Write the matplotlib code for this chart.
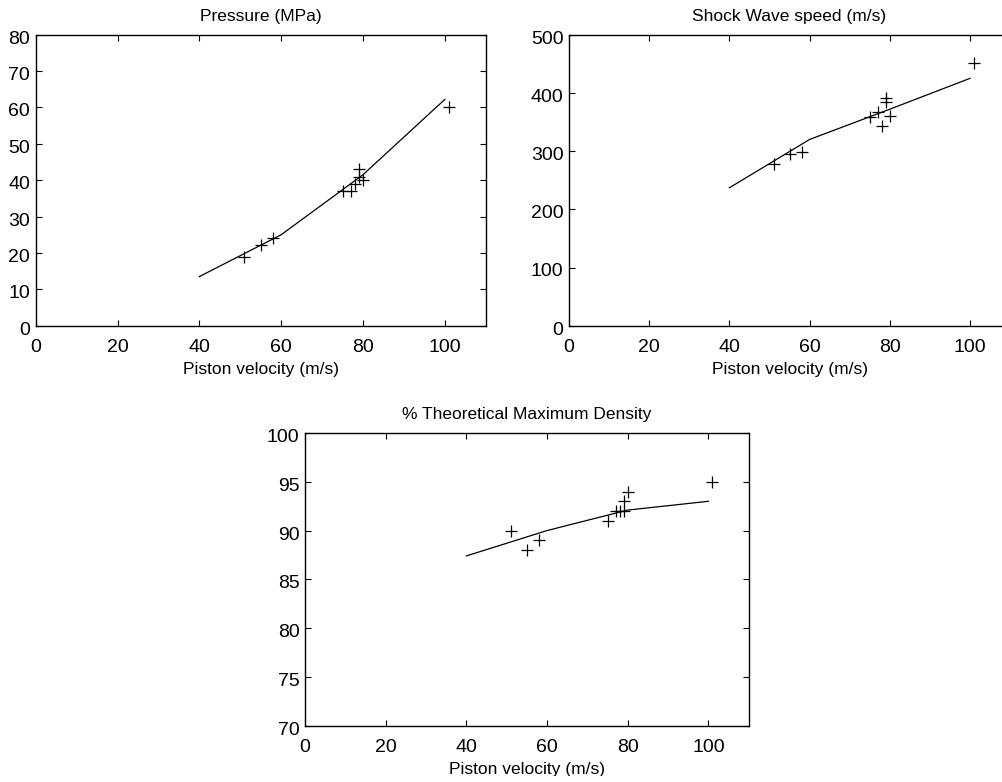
import numpy as np
import matplotlib
matplotlib.use("Agg")
import matplotlib.pyplot as plt
from matplotlib.transforms import Bbox, TransformedBbox, ScaledTranslation

plt.rcParams['font.family'] = ['Liberation Sans', 'DejaVu Sans']
plt.rcParams['font.size'] = 12

# measured piston velocities (m/s)
velocity = [51, 55, 58, 75, 77, 78, 79, 79, 80, 101]
pressure = [19, 22.3, 24, 37, 37, 39, 43, 41, 40, 60]
shock_speed = [278, 295, 299, 359, 368, 343, 392, 385, 360, 451]
density = [90, 88, 89, 91, 92, 92, 93, 92, 94, 95]

# model curves
model_velocity = [40, 60, 80, 100]
model_pressure = [13.5, 25.0, 41.5, 62.2]
model_shock = [237, 320, 372, 425]
model_density = [87.4, 90.0, 92.1, 93.0]

W, H = 1002, 782
fig = plt.figure(figsize=(W / 100, H / 100), dpi=100)


def make_axes(left, bottom, right, top):
    return fig.add_axes([left / W, 1 - bottom / H, (right - left) / W, (bottom - top) / H])


def style(ax, title, ylim, yticks, clip_y):
    ax.set_xlim(0, 110)
    ax.set_ylim(*ylim)
    ax.set_xticks([0, 20, 40, 60, 80, 100])
    ax.set_yticks(yticks)
    ax.tick_params(direction='in', length=4, width=0.8, top=True, right=True,
                   labelsize=14)
    ax.tick_params(axis='x', pad=9.5)
    ax.tick_params(axis='y', pad=4)
    # y tick labels sit a little below their ticks in the original
    shift = ScaledTranslation(0, -2.5 / 100, fig.dpi_scale_trans)
    for t in ax.yaxis.get_major_ticks():
        t.label1.set_transform(t.label1.get_transform() + shift)
    for s in ax.spines.values():
        s.set_linewidth(1.0)
    ax.set_title(title, fontsize=12.5, pad=10)
    lab = ax.set_xlabel('Piston velocity (m/s)', fontsize=12.5, labelpad=4.5)
    # the bottom of the axis label is cut off in the original
    lab.set_clip_on(True)
    lab.set_clip_box(TransformedBbox(Bbox([[0, 1 - clip_y / H], [1, 1]]), fig.transFigure))


def draw(ax, y, model):
    ax.plot(model_velocity, model, color='black', lw=0.9)
    ax.plot(velocity, y, ls='none', marker='+', color='black', ms=9, mew=0.9)


ax1 = make_axes(35.7, 325.7, 485.7, 34.7)
draw(ax1, pressure, model_pressure)
style(ax1, 'Pressure (MPa)', (0, 80), range(0, 81, 10), 377.7)

ax2 = make_axes(569, 325.7, 569 + 4.01 * 110, 34.7)
draw(ax2, shock_speed, model_shock)
style(ax2, 'Shock Wave speed (m/s)', (0, 500), range(0, 501, 100), 377.7)

ax3 = make_axes(305, 725.7, 748.7, 433)
draw(ax3, density, model_density)
style(ax3, '% Theoretical Maximum Density', (70, 100), range(70, 101, 5), 775.7)

fig.savefig('out.png', dpi=100)
